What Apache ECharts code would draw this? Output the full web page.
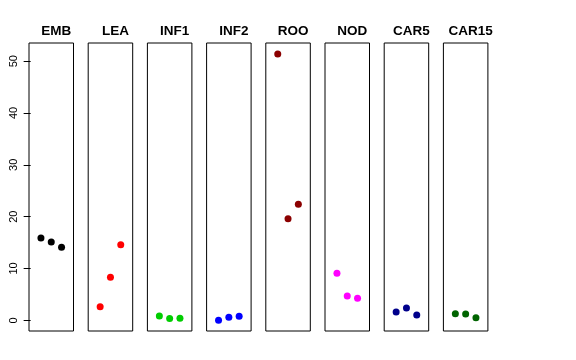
<!DOCTYPE html>
<html><head><meta charset="utf-8">
<script src="https://cdn.jsdelivr.net/npm/echarts@6/dist/echarts.min.js"></script>
<style>html,body{margin:0;padding:0;background:#fff}#c{width:576px;height:360px}</style>
</head><body><div id="c"></div>
<script>
var panels = ["EMB","LEA","INF1","INF2","ROO","NOD","CAR5","CAR15"];
var colors = ["#000000","#FF0000","#00CD00","#0000FF","#8B0000","#FF00FF","#00008B","#006400"];
var EMB = [15.9, 15.1, 14.1];
var LEA = [2.6, 8.3, 14.6];
var INF1 = [0.83, 0.33, 0.39];
var INF2 = [0.0, 0.58, 0.77];
var ROO = [51.4, 19.6, 22.4];
var NOD = [9.07, 4.7, 4.25];
var CAR5 = [1.6, 2.37, 1.02];
var CAR15 = [1.29, 1.22, 0.52];
var seriesValues = [EMB, LEA, INF1, INF2, ROO, NOD, CAR5, CAR15];
var xPositions = [1, 2, 3];
var yTicks = [0, 10, 20, 30, 40, 50];

(function(){
var yMin = -2.06, yMax = 53.5;
var grids = [], xAxes = [], yAxes = [], series = [], titles = [];
var left0 = 29, step = 59.2, w = 44.5, gTop = 43, h = 288;
panels.forEach(function(name, i){
  var l = left0 + i*step;
  grids.push({left: l, top: gTop, width: w, height: h, show: true, borderColor: '#000', borderWidth: 1, backgroundColor: 'transparent'});
  xAxes.push({gridIndex: i, type: 'value', min: -0.16, max: 4.16, show: false});
  yAxes.push({gridIndex: i, type: 'value', min: yMin, max: yMax, show: i === 0,
    splitLine: {show: false},
    axisLine: {show: false},
    axisTick: {show: true, inside: false, length: 7, customValues: yTicks, lineStyle: {color: '#000'}},
    axisLabel: {show: true, rotate: 90, margin: 10, customValues: yTicks, color: '#000', fontSize: 11, fontFamily: 'Liberation Sans, Arial, sans-serif'}
  });
  series.push({type: 'scatter', xAxisIndex: i, yAxisIndex: i, symbol: 'circle', symbolSize: 7,
    itemStyle: {color: colors[i], opacity: 1},
    data: xPositions.map(function(x, k){ return [x, seriesValues[i][k]]; })});
  titles.push({text: name, left: l + w/2, top: 19, textAlign: 'center',
    textStyle: {fontSize: 13.5, fontWeight: 'bold', color: '#000', fontFamily: 'Liberation Sans, Arial, sans-serif'}});
});
var chart = echarts.init(document.getElementById('c'), null, {renderer: 'canvas'});
chart.setOption({animation: false, title: titles, grid: grids, xAxis: xAxes, yAxis: yAxes, series: series});
})();
</script></body></html>
